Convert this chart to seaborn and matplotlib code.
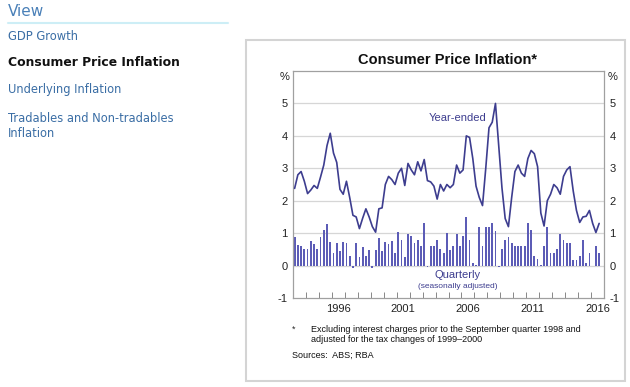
import numpy as np
import pandas as pd
import seaborn as sns
import matplotlib.pyplot as plt
from matplotlib.patches import Rectangle

# Quarterly data, March 1993 to September 2016
quarters = pd.period_range('1993Q1', '2016Q3', freq='Q')

# Year-ended CPI inflation (%)
year_ended = [
    2.38, 2.8, 2.9, 2.6, 2.22, 2.33, 2.47, 2.38, 2.73, 3.1, 3.7, 4.08,
    3.47, 3.18, 2.35, 2.2, 2.6, 2.1, 1.55, 1.5, 1.14, 1.46, 1.75, 1.5,
    1.2, 1.03, 1.75, 1.78, 2.5, 2.75, 2.65, 2.5, 2.85, 3.0, 2.47, 3.15,
    2.95, 2.8, 3.2, 2.92, 3.27, 2.62, 2.58, 2.45, 2.05, 2.5, 2.3, 2.5,
    2.4, 2.5, 3.1, 2.85, 2.95, 4.0, 3.95, 3.3, 2.45, 2.1, 1.85, 3.0,
    4.25, 4.42, 5.0, 3.7, 2.4, 1.45, 1.2, 2.1, 2.9, 3.1, 2.85, 2.75,
    3.3, 3.55, 3.45, 3.05, 1.62, 1.22, 2.0, 2.2, 2.5, 2.4, 2.2, 2.75,
    2.95, 3.05, 2.3, 1.7, 1.33, 1.5, 1.52, 1.7, 1.3, 1.02, 1.3,
]

# Quarterly CPI inflation, seasonally adjusted (%)
quarterly = [
    0.88, 0.63, 0.6, 0.5, 0.5, 0.75, 0.65, 0.5, 0.88, 1.1, 1.28, 0.72,
    0.4, 0.7, 0.45, 0.72, 0.7, 0.3, -0.08, 0.7, 0.27, 0.58, 0.28, 0.48,
    -0.08, 0.48, 0.85, 0.45, 0.72, 0.65, 0.75, 0.38, 1.05, 0.78, 0.25, 0.98,
    0.9, 0.7, 0.8, 0.6, 1.3, -0.03, 0.6, 0.6, 0.8, 0.5, 0.4, 1.0,
    0.48, 0.59, 0.98, 0.59, 0.9, 1.5, 0.8, 0.07, 0.02, 1.2, 0.59, 1.2,
    1.2, 1.3, 1.08, -0.05, 0.5, 0.8, 0.88, 0.7, 0.6, 0.6, 0.6, 0.6,
    1.3, 1.1, 0.3, 0.2, 0.02, 0.6, 1.2, 0.4, 0.4, 0.5, 0.98, 0.8,
    0.7, 0.7, 0.18, 0.18, 0.3, 0.8, 0.07, 0.4, 0.0, 0.6, 0.4,
]

year_ticks = list(range(1994, 2017))
year_labels = ['1996', '2001', '2006', '2011', '2016']
y_ticks = [-1, 0, 1, 2, 3, 4, 5]

nav_items = ['GDP Growth', 'Consumer Price Inflation', 'Underlying Inflation',
             'Tradables and Non-tradables\nInflation']

df = pd.DataFrame({
    'date': [q.year + (q.quarter - 1) / 4 + 0.125 for q in quarters],
    'year_ended': year_ended,
    'quarterly': quarterly,
})

sns.set_theme(style="white")
plt.rcParams['font.family'] = ['Liberation Sans', 'DejaVu Sans']

line_col = '#3d3d8f'
bar_col = '#5c5cb6'

fig = plt.figure(figsize=(6.3, 3.87), dpi=100)
W, H = 630, 387

# Left navigation panel
nav_blue = '#3b6ea5'
fig.text(8 / W, 1 - 12 / H, 'View', fontsize=11, color='#4a80b8',
         family='DejaVu Sans', va='center', ha='left')
fig.add_artist(plt.Line2D([8 / W, 228 / W], [1 - 23 / H, 1 - 23 / H],
                          color='#cdeef6', lw=1.5))
nav_y = [37, 63, 90, 126]
for label, y in zip(nav_items, nav_y):
    bold = label.startswith('Consumer')
    fig.text(8 / W, 1 - y / H, label, fontsize=8.9 if bold else 8.3,
             family='DejaVu Sans',
             color='#111111' if bold else nav_blue,
             fontweight='bold' if bold else 'normal',
             va='center', ha='left', linespacing=1.25)

# Chart box
fig.add_artist(Rectangle((246 / W, 1 - 381 / H), (625 - 246) / W, (381 - 40) / H,
                         transform=fig.transFigure, fill=False,
                         edgecolor='#d4d4d4', lw=1.5))

ax = fig.add_axes([293 / W, 1 - 298 / H, (604 - 293) / W, (298 - 71) / H])

# quarterly bars
ax.bar(df['date'], df['quarterly'], width=0.14, color=bar_col,
       linewidth=0, zorder=2)
sns.lineplot(data=df, x='date', y='year_ended', color=line_col, lw=1.2,
             ax=ax, zorder=3)

ax.set_xlim(1993, 2017)
ax.set_ylim(-1, 6)
ax.set_xlabel('')
ax.set_ylabel('')

for y in range(0, 6):
    ax.axhline(y, color='#d6d6d6', lw=0.9, zorder=1)

ax.set_yticks(y_ticks)
ax.set_yticklabels([str(v) for v in y_ticks])
ax.tick_params(axis='y', which='both', length=0, labelsize=8, pad=4,
               labelleft=True, labelright=True, colors='#222222')

ax.set_xticks(year_ticks)
ax.set_xticklabels([])
ax.tick_params(axis='x', which='major', direction='in', length=4,
               width=0.7, color='#888888', bottom=True)
ax.set_xticks([int(l) + 0.5 for l in year_labels], minor=True)
ax.set_xticklabels(year_labels, minor=True)
ax.tick_params(axis='x', which='minor', length=0, labelsize=8, pad=4,
               colors='#222222')

for s in ax.spines.values():
    s.set_color('#a0a0a0')
    s.set_linewidth(0.9)

ax.text(-0.012, 0.995, '%', transform=ax.transAxes, ha='right', va='top',
        fontsize=8, color='#222222')
ax.text(1.012, 0.995, '%', transform=ax.transAxes, ha='left', va='top',
        fontsize=8, color='#222222')

ax.text(2005.73, 4.55, 'Year-ended', color=line_col, fontsize=8,
        ha='center', va='center')
ax.text(2005.73, -0.3, 'Quarterly', color=line_col, fontsize=8,
        ha='center', va='center')
ax.text(2005.73, -0.63, '(seasonally adjusted)', color=line_col, fontsize=6,
        ha='center', va='center')

fig.text(448 / W, 1 - 60 / H, 'Consumer Price Inflation*', fontsize=10.5,
         fontweight='bold', ha='center', va='center', color='#111111')

fs = 6.5
fig.text(292 / W, 1 - 329 / H, '*', fontsize=fs, ha='left', va='center')
fig.text(311 / W, 1 - 329 / H,
         'Excluding interest charges prior to the September quarter 1998 and',
         fontsize=fs, ha='left', va='center', color='#111111')
fig.text(311 / W, 1 - 340 / H, 'adjusted for the tax changes of 1999\u20132000',
         fontsize=fs, ha='left', va='center', color='#111111')
fig.text(292 / W, 1 - 355 / H, 'Sources:  ABS; RBA', fontsize=fs,
         ha='left', va='center', color='#111111')

fig.savefig('out.png', dpi=100)
